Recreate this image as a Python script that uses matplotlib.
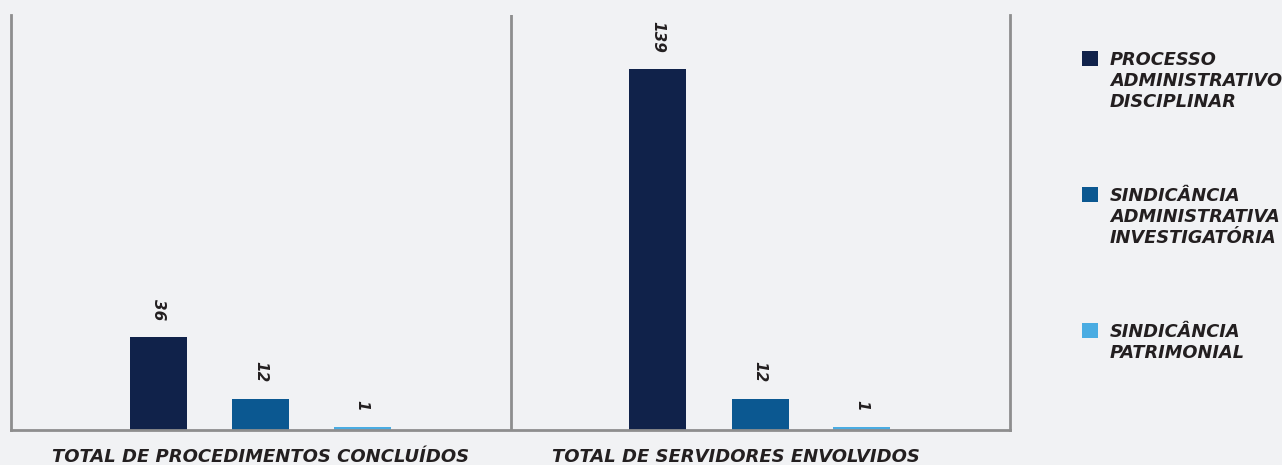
import numpy as np
import matplotlib
matplotlib.use("Agg")
import matplotlib.pyplot as plt
import matplotlib.transforms as mtransforms
from matplotlib.offsetbox import HPacker

# data
categories = ["TOTAL DE PROCEDIMENTOS CONCLUÍDOS", "TOTAL DE SERVIDORES ENVOLVIDOS"]
series_names = ["PROCESSO\nADMINISTRATIVO\nDISCIPLINAR",
                "SINDICÂNCIA\nADMINISTRATIVA\nINVESTIGATÓRIA",
                "SINDICÂNCIA\nPATRIMONIAL"]
pad_values = [36, 139]
sai_values = [12, 12]
sp_values = [1, 1]

colors = ["#10224A", "#0B5891", "#4AACE2"]
bg = "#F1F2F4"
txt = "#231F20"
grid_gray = "#8E8E8E"

plt.rcParams["font.family"] = ["DejaVu Sans"]

fig = plt.figure(figsize=(12.82, 4.65), dpi=100, facecolor=bg)
ax = fig.add_axes([11 / 1282, 35 / 465, 999 / 1282, 415 / 465])
ax.set_facecolor(bg)

x = np.arange(len(categories))
width = 0.114
offsets = [-0.205, 0.0, 0.203]
all_series = [pad_values, sai_values, sp_values]

for vals, off, col, name in zip(all_series, offsets, colors, series_names):
    bars = ax.bar(x + off, vals, width, color=col, label=name, zorder=2)
    for b, v in zip(bars, vals):
        ax.annotate(str(v), (b.get_x() + b.get_width() / 2, b.get_height()),
                    xytext=(0, 12), textcoords="offset points",
                    rotation=-90, ha="center", va="bottom",
                    fontsize=11, fontweight="bold", fontstyle="italic", color=txt)

ax.set_xlim(-0.5, 1.5)
ax.set_ylim(0, 160)
ax.axvline(0.5, color=grid_gray, lw=2, zorder=1)

for side in ["left", "right", "bottom"]:
    ax.spines[side].set_color(grid_gray)
    ax.spines[side].set_linewidth(2)
ax.spines["top"].set_visible(False)

ax.set_yticks([])
ax.set_xticks(x)
ax.set_xticklabels(categories, fontsize=13, fontweight="bold", fontstyle="italic", color=txt)
ax.tick_params(axis="x", length=0, pad=13)
# second category label sits a bit left of its group centre in the original
lbl = ax.get_xticklabels()[1]
lbl.set_transform(lbl.get_transform() + mtransforms.ScaledTranslation(-0.24, 0, fig.dpi_scale_trans))

leg = fig.legend(loc="upper left", bbox_to_anchor=(1075 / 1282, 1 - 44 / 465),
                 frameon=False, handlelength=0.9, handleheight=0.9,
                 handletextpad=0.65, labelspacing=4.3, borderaxespad=0,
                 prop={"size": 12.8, "weight": "bold", "style": "italic"})
for t in leg.get_texts():
    t.set_color(txt)
for hp in leg.findobj(HPacker):
    hp.align = "top"

fig.savefig("out.png", dpi=100, facecolor=bg)
